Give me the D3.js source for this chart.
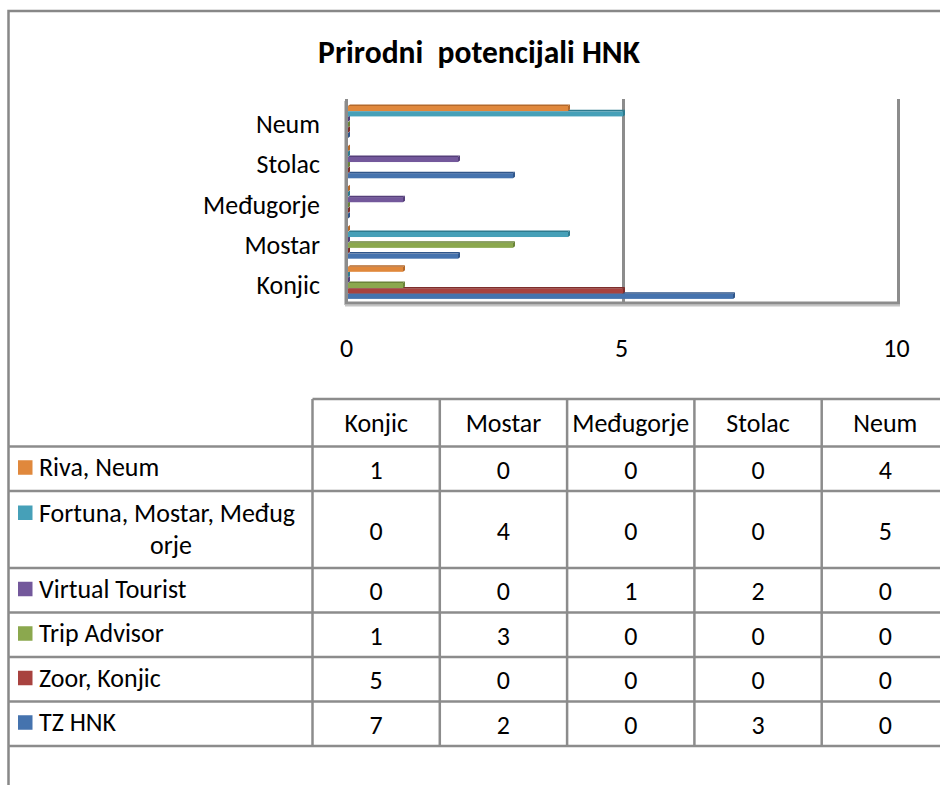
<!DOCTYPE html>
<html>
<head>
<meta charset="utf-8">
<script src="https://cdn.jsdelivr.net/npm/d3@7"></script>
<style>
  body { margin: 0; background: #fff; }
  text { font-family: Carlito, Lato, "Open Sans", sans-serif; fill: #000; }
</style>
</head>
<body>
<div id="chart"></div>
<script>
// data
var categories = ["Konjic", "Mostar", "Međugorje", "Stolac", "Neum"];
var seriesNames = ["Riva, Neum", "Fortuna, Mostar, Međugorje", "Virtual Tourist", "Trip Advisor", "Zoor, Konjic", "TZ HNK"];
var rivaNeum = [1, 0, 0, 0, 4];
var fortuna = [0, 4, 0, 0, 5];
var virtualTourist = [0, 0, 1, 2, 0];
var tripAdvisor = [1, 3, 0, 0, 0];
var zoorKonjic = [5, 0, 0, 0, 0];
var tzHnk = [7, 2, 0, 3, 0];
var tickValues = [0, 5, 10];

var seriesValues = [rivaNeum, fortuna, virtualTourist, tripAdvisor, zoorKonjic, tzHnk];
var seriesColors = ["#e0883c", "#46a0b8", "#73589b", "#8ba84e", "#a8423f", "#4573ae"];
var seriesDark = ["#b4692a", "#2f7b8f", "#553f7a", "#6a8438", "#7e2e2c", "#30568a"];

var W = 940, H = 785;
var gridColor = "#8c8c8c";

var svg = d3.select("#chart")
  .append("svg")
  .attr("width", W)
  .attr("height", H)
  .style("display", "block");

// size fonts so that a known label matches the width it has in the picture
function fitSize(str, weight, target) {
  var t = svg.append("text").attr("font-size", 100).attr("font-weight", weight)
    .style("white-space", "pre").text(str);
  var w = t.node().getComputedTextLength();
  t.remove();
  return 100 * target / w;
}
var fs = fitSize("Međugorje", "normal", 117);
var titleFs = fitSize("Prirodni  potencijali HNK", "bold", 322);

// outer frame
svg.append("path")
  .attr("d", "M8.5,785 V11 H940")
  .attr("fill", "none")
  .attr("stroke", "#888")
  .attr("stroke-width", 2.5);

// title
svg.append("text")
  .attr("x", 479)
  .attr("y", 63)
  .attr("text-anchor", "middle")
  .attr("font-weight", "bold")
  .attr("font-size", titleFs)
  .style("white-space", "pre")
  .text("Prirodni  potencijali HNK");

// scales
var x = d3.scaleLinear()
  .domain([0, 10])
  .range([348, 898]);

var y = d3.scaleBand()
  .domain(categories)
  .range([302, 101]);

var y1 = d3.scaleBand()
  .domain(seriesNames)
  .range([4, 36.5]);

// walls / gridlines
var plot = svg.append("g");
plot.selectAll(".grid")
  .data(tickValues.slice(1))
  .enter()
  .append("line")
  .attr("x1", function (d) { return x(d) + 0.5; })
  .attr("x2", function (d) { return x(d) + 0.5; })
  .attr("y1", 99)
  .attr("y2", 302)
  .attr("stroke", gridColor)
  .attr("stroke-width", 3);

// floor
plot.append("line")
  .attr("x1", x(0) - 3).attr("x2", x(10) + 2)
  .attr("y1", 305.5).attr("y2", 305.5)
  .attr("stroke", "#c4c4c4").attr("stroke-width", 2);
plot.append("line")
  .attr("x1", x(0) - 3).attr("x2", x(10) + 2)
  .attr("y1", 303).attr("y2", 303)
  .attr("stroke", gridColor).attr("stroke-width", 3);
// left wall
plot.append("line")
  .attr("x1", x(0) - 1.5).attr("x2", x(0) - 1.5)
  .attr("y1", 99).attr("y2", 304)
  .attr("stroke", gridColor).attr("stroke-width", 3);
plot.append("line")
  .attr("x1", x(0) - 3.5).attr("x2", x(0) - 3.5)
  .attr("y1", 101).attr("y2", 305)
  .attr("stroke", "#c4c4c4").attr("stroke-width", 1);

// bars, bottom series first so the ones above cover their top faces
var bars = [];
for (var s = seriesNames.length - 1; s >= 0; s--) {
  for (var c = 0; c < categories.length; c++) {
    bars.push({ s: s, name: seriesNames[s], cat: categories[c], v: seriesValues[s][c] });
  }
}

var barG = plot.append("g")
  .selectAll("g")
  .data(bars)
  .enter()
  .append("g");

function cyOf(d) { return y(d.cat) + y1(d.name) + y1.bandwidth() / 2; }

barG.append("rect")
  .attr("x", x(0))
  .attr("y", function (d) { return cyOf(d) - 1.8; })
  .attr("width", function (d) { return x(d.v) - x(0); })
  .attr("height", 5.1)
  .attr("fill", function (d) { return seriesColors[d.s]; });

barG.append("polygon")
  .attr("points", function (d) {
    var cy = cyOf(d), x0 = x(0), x1 = x(d.v);
    return [[x0, cy - 1.8], [x0 + 2, cy - 3.3], [x1 + 2, cy - 3.3], [x1, cy - 1.8]].join(" ");
  })
  .attr("fill", function (d) { return seriesDark[d.s]; });

barG.append("polygon")
  .attr("points", function (d) {
    var cy = cyOf(d), x1 = x(d.v);
    return [[x1, cy - 1.8], [x1 + 2, cy - 3.3], [x1 + 2, cy + 1.8], [x1, cy + 3.3]].join(" ");
  })
  .attr("fill", function (d) { return seriesDark[d.s]; });

// category axis
var yAxis = svg.append("g")
  .attr("transform", "translate(320,3)")
  .call(d3.axisLeft(y).tickSize(0).tickPadding(0));
yAxis.select(".domain").remove();
yAxis.selectAll("text")
  .attr("font-size", fs)
  .attr("font-family", null)
  .attr("dy", "0.35em");

// value axis labels
var xAxis = svg.append("g")
  .attr("transform", "translate(-2,348)")
  .call(d3.axisBottom(x).tickValues(tickValues).tickSize(0).tickPadding(0));
xAxis.select(".domain").remove();
xAxis.selectAll("text")
  .attr("font-size", fs)
  .attr("font-family", null)
  .attr("y", 0)
  .attr("dy", "0.35em");

// data table
var col = d3.scaleBand()
  .domain(categories)
  .range([312.5, 312.5 + 5 * 127.3]);

var headerTop = 399, headerBottom = 446.5, rowH = 44.5, lineH = 32.5;
var rows = seriesNames.map(function (name, i) {
  var lines = name.length > 24 ? [name.slice(0, 22), name.slice(22)] : [name];
  return { name: name, i: i, lines: lines, h: rowH + (lines.length - 1) * lineH };
});
var yy = headerBottom;
rows.forEach(function (r) { r.top = yy; yy += r.h; r.bottom = yy; });
var tableBottom = yy;

var table = svg.append("g");

// grid lines of the table
table.append("line")
  .attr("x1", col.range()[0]).attr("x2", W)
  .attr("y1", headerTop).attr("y2", headerTop)
  .attr("stroke", gridColor).attr("stroke-width", 2.5);
table.selectAll(".hline")
  .data([headerBottom].concat(rows.map(function (r) { return r.bottom; })))
  .enter()
  .append("line")
  .attr("x1", 8).attr("x2", W)
  .attr("y1", function (d) { return d; })
  .attr("y2", function (d) { return d; })
  .attr("stroke", gridColor).attr("stroke-width", 2.5);
table.selectAll(".vline")
  .data(categories.map(function (c) { return col(c); }).concat([col.range()[1]]))
  .enter()
  .append("line")
  .attr("x1", function (d) { return d; })
  .attr("x2", function (d) { return d; })
  .attr("y1", headerTop).attr("y2", tableBottom)
  .attr("stroke", gridColor).attr("stroke-width", 2.5);

// header
table.selectAll(".head")
  .data(categories)
  .enter()
  .append("text")
  .attr("x", function (d) { return col(d) + col.bandwidth() / 2; })
  .attr("y", (headerTop + headerBottom) / 2)
  .attr("dy", "0.35em")
  .attr("text-anchor", "middle")
  .attr("font-size", fs)
  .text(function (d) { return d; });

// legend keys and series names
var rowG = table.selectAll(".row")
  .data(rows)
  .enter()
  .append("g");

function firstLineY(r) {
  return r.lines.length > 1 ? r.top + 21.5 : (r.top + r.bottom) / 2 - 1.5;
}

rowG.append("rect")
  .attr("x", 18)
  .attr("y", function (r) { return firstLineY(r) - 7; })
  .attr("width", 14.5)
  .attr("height", 14.5)
  .attr("fill", function (r) { return seriesColors[r.i]; });

rowG.selectAll(".lab")
  .data(function (r) {
    return r.lines.map(function (l, k) { return { r: r, text: l, k: k }; });
  })
  .enter()
  .append("text")
  .attr("x", function (d) { return d.k === 0 ? 39 : 171; })
  .attr("y", function (d) { return firstLineY(d.r) + d.k * lineH; })
  .attr("dy", "0.35em")
  .attr("text-anchor", function (d) { return d.k === 0 ? "start" : "middle"; })
  .attr("font-size", fs)
  .text(function (d) { return d.text; });

// values
rowG.selectAll(".val")
  .data(function (r) {
    return categories.map(function (c, k) { return { r: r, cat: c, v: seriesValues[r.i][k] }; });
  })
  .enter()
  .append("text")
  .attr("x", function (d) { return col(d.cat) + col.bandwidth() / 2; })
  .attr("y", function (d) { return (d.r.top + d.r.bottom) / 2 + 1; })
  .attr("dy", "0.35em")
  .attr("text-anchor", "middle")
  .attr("font-size", fs)
  .text(function (d) { return d.v; });
</script>
</body>
</html>
